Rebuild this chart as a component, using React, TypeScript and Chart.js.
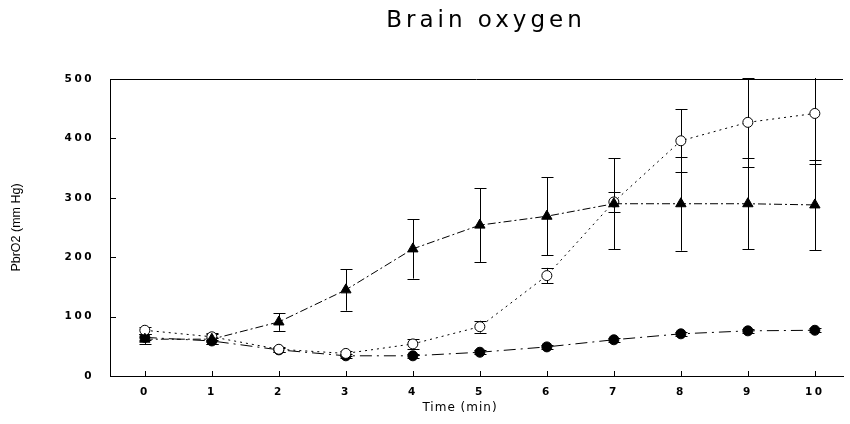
import React, { useEffect, useRef } from "react";
import { Chart, registerables } from "chart.js";

Chart.register(...registerables);

const TITLE = "Brain oxygen";
const X_TITLE = "Time (min)";
const Y_TITLE = "PbrO2 (mm Hg)";

const times = [0, 1, 2, 3, 4, 5, 6, 7, 8, 9, 10];
const yTicks = [0, 100, 200, 300, 400, 500];

// Filled triangles
const triangleMean = [62, 62, 91, 145, 214, 254, 269, 290, 290, 290, 288];
const triangleErr = [8, 8, 15, 35, 50, 62, 66, 77, 79, 77, 76];
// Open circles
const openMean = [77, 66, 45, 38, 54, 83, 169, 293, 396, 427, 442];
const openErr = [6, 6, 4, 4, 8, 10, 13, 17, 53, 75, 85];
// Filled circles
const filledMean = [65, 59, 44, 34, 34, 40, 49, 61, 71, 76, 77];
const filledErr = [5, 5, 3, 3, 3, 3, 3, 3, 3, 3, 3];

const errors = [triangleErr, openErr, filledErr];

const toPoints = (vals: number[]) => times.map((t, i) => ({ x: t, y: vals[i] }));

const FONT_TICK = "'DejaVu Sans', 'Liberation Sans', sans-serif";

const errorBarPlugin = {
  id: "errorBars",
  beforeDatasetsDraw(chart: any) {
    const { ctx, chartArea, scales } = chart;
    const xs = scales.x;
    const ys = scales.y;
    ctx.save();
    ctx.beginPath();
    ctx.rect(chartArea.left, chartArea.top - 1, chartArea.right - chartArea.left, chartArea.bottom - chartArea.top + 2);
    ctx.clip();
    ctx.strokeStyle = "#000";
    ctx.lineWidth = 1;
    chart.data.datasets.forEach((ds: any, di: number) => {
      const errs = errors[di];
      ds.data.forEach((p: any, i: number) => {
        const e = errs[i];
        if (!e) return;
        const px = Math.round(xs.getPixelForValue(p.x)) + 0.5;
        const top = ys.getPixelForValue(p.y + e);
        const bot = ys.getPixelForValue(p.y - e);
        ctx.beginPath();
        ctx.moveTo(px, top);
        ctx.lineTo(px, bot);
        ctx.moveTo(px - 6, Math.round(top) + 0.5);
        ctx.lineTo(px + 6, Math.round(top) + 0.5);
        ctx.moveTo(px - 6, Math.round(bot) + 0.5);
        ctx.lineTo(px + 6, Math.round(bot) + 0.5);
        ctx.stroke();
      });
    });
    ctx.restore();
  },
};

const framePlugin = {
  id: "frame",
  beforeDraw(chart: any) {
    chart.ctx.letterSpacing = "2.5px";
  },
  afterDraw(chart: any) {
    const { ctx, chartArea, scales } = chart;
    const xs = scales.x;
    const ys = scales.y;
    ctx.save();
    ctx.strokeStyle = "#000";
    ctx.lineWidth = 1;
    // top border
    ctx.beginPath();
    ctx.moveTo(chartArea.left, Math.round(chartArea.top) + 0.5);
    ctx.lineTo(chartArea.right, Math.round(chartArea.top) + 0.5);
    ctx.stroke();
    // inward y ticks
    yTicks.forEach((v) => {
      if (v === 0 || v === 500) return;
      const py = Math.round(ys.getPixelForValue(v)) + 0.5;
      ctx.beginPath();
      ctx.moveTo(chartArea.left, py);
      ctx.lineTo(chartArea.left + 6, py);
      ctx.stroke();
    });
    // inward x ticks
    times.forEach((t) => {
      const px = Math.round(xs.getPixelForValue(t)) + 0.5;
      ctx.beginPath();
      ctx.moveTo(px, chartArea.bottom);
      ctx.lineTo(px, chartArea.bottom - 5);
      ctx.stroke();
    });
    ctx.fillStyle = "#000";
    ctx.textAlign = "center";
    ctx.textBaseline = "middle";
    // main title
    ctx.letterSpacing = "4px";
    ctx.font = "23px 'DejaVu Sans', sans-serif";
    ctx.fillText(TITLE, 486, 21);
    // x title
    ctx.letterSpacing = "1px";
    ctx.font = "12px " + FONT_TICK;
    ctx.fillText(X_TITLE, 460, 408);
    // y title
    ctx.letterSpacing = "0px";
    ctx.font = "12.5px 'Liberation Sans', Arial, sans-serif";
    ctx.translate(17, (chartArea.top + chartArea.bottom) / 2);
    ctx.rotate(-Math.PI / 2);
    ctx.fillText(Y_TITLE, 0, 0);
    ctx.restore();
  },
};

export default function App() {
  const canvasRef = useRef<HTMLCanvasElement | null>(null);

  useEffect(() => {
    const canvas = canvasRef.current;
    if (!canvas) return;
    const chart = new Chart(canvas, {
      type: "line",
      data: {
        datasets: [
          {
            label: "triangles",
            data: toPoints(triangleMean),
            borderColor: "#000",
            borderWidth: 1,
            borderDash: [8, 3, 2, 3],
            pointStyle: "triangle",
            pointRadius: 6,
            pointBackgroundColor: "#000",
            pointBorderColor: "#000",
            fill: false,
            tension: 0,
          },
          {
            label: "open circles",
            data: toPoints(openMean),
            borderColor: "#000",
            borderWidth: 1,
            borderDash: [2, 4],
            pointStyle: "circle",
            pointRadius: 5,
            pointBackgroundColor: "#fff",
            pointBorderColor: "#000",
            pointBorderWidth: 1,
            fill: false,
            tension: 0,
          },
          {
            label: "filled circles",
            data: toPoints(filledMean),
            borderColor: "#000",
            borderWidth: 1,
            borderDash: [12, 5, 2, 5],
            pointStyle: "circle",
            pointRadius: 5,
            pointBackgroundColor: "#000",
            pointBorderColor: "#000",
            fill: false,
            tension: 0,
          },
        ],
      },
      options: {
        animation: false,
        responsive: false,
        devicePixelRatio: 1,
        layout: { padding: { top: 79, left: 0, right: 0, bottom: 0 } },
        plugins: {
          legend: { display: false },
          title: { display: false },
          tooltip: { enabled: false },
        },
        scales: {
          x: {
            type: "linear",
            min: -0.52,
            max: 10.42,
            afterBuildTicks: (scale: any) => {
              scale.ticks = times.map((t) => ({ value: t }));
            },
            afterFit: (scale: any) => {
              scale.height = 48;
            },
            grid: { display: false, drawTicks: false },
            border: { display: true, color: "#000", width: 1 },
            ticks: {
              color: "#000",
              padding: 10,
              font: { family: FONT_TICK, size: 10.5, weight: "bold" },
              callback: (v: any) => String(v),
            },
            title: { display: false, text: X_TITLE },
          },
          y: {
            min: 0,
            max: 500,
            afterBuildTicks: (scale: any) => {
              scale.ticks = yTicks.map((v) => ({ value: v }));
            },
            afterFit: (scale: any) => {
              scale.width = 110;
            },
            grid: { display: false, drawTicks: false },
            border: { display: true, color: "#000", width: 1 },
            ticks: {
              color: "#000",
              padding: 16,
              font: { family: FONT_TICK, size: 10.5, weight: "bold" },
            },
          },
        },
      },
      plugins: [errorBarPlugin, framePlugin],
    } as any);
    return () => chart.destroy();
  }, []);

  return (
    <div style={{ position: "fixed", left: 0, top: 0, width: 850, height: 424, background: "#fff" }}>
      <canvas ref={canvasRef} width={850} height={424} />
    </div>
  );
}
